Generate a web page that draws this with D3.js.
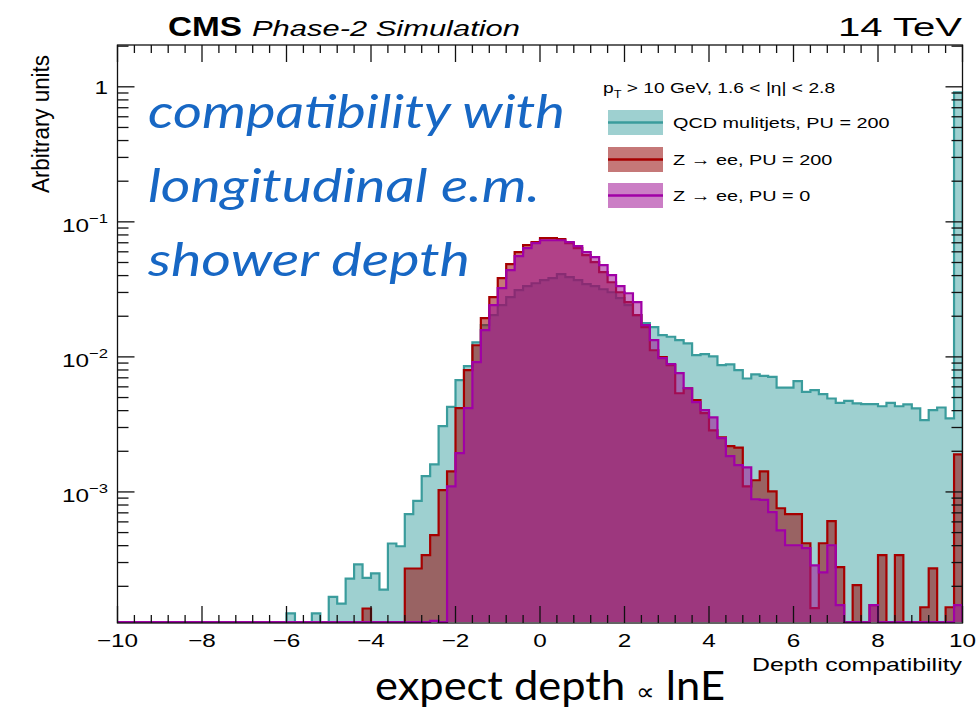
<!DOCTYPE html>
<html>
<head>
<meta charset="utf-8">
<script src="https://cdn.jsdelivr.net/npm/d3@7"></script>
<style>
body { margin: 0; background: #fff; }
text { font-family: "Liberation Sans", Arial, sans-serif; fill: #000; }
</style>
</head>
<body>
<div id="chart"></div>
<script>
// binning: 100 bins of 0.2 from -10 to 10
var xMin = -10, xMax = 10, binWidth = 0.2;

// QCD multijets, PU = 200
var qcdPU200 = [
	0,0,0,0,0,0,0,0,0,0,
	0,0,0,0,0,0,0,0,0,0,
	1.26e-4,0,0,1.26e-4,0,1.67e-4,1.49e-4,2.28e-4,2.91e-4,2.31e-4,
	2.49e-4,1.89e-4,4.15e-4,3.96e-4,6.84e-4,8.58e-4,1.31e-3,1.60e-3,3.07e-3,4.26e-3,
	6.72e-3,8.53e-3,1.28e-2,1.72e-2,2.04e-2,2.42e-2,2.77e-2,3.12e-2,3.34e-2,3.51e-2,
	3.70e-2,3.83e-2,4.10e-2,3.89e-2,3.70e-2,3.46e-2,3.34e-2,3.17e-2,3.01e-2,2.72e-2,
	2.42e-2,2.04e-2,1.78e-2,1.66e-2,1.45e-2,1.41e-2,1.33e-2,1.26e-2,1.03e-2,1.05e-2,
	1.01e-2,8.68e-3,8.79e-3,7.97e-3,6.92e-3,7.41e-3,7.23e-3,7.11e-3,5.93e-3,5.93e-3,
	6.61e-3,5.51e-3,5.67e-3,5.30e-3,4.92e-3,4.56e-3,4.72e-3,4.52e-3,4.47e-3,4.47e-3,
	4.31e-3,4.56e-3,4.31e-3,4.45e-3,4.15e-3,3.40e-3,4.03e-3,4.22e-3,3.50e-3,0.91
];

// Z -> ee, PU = 200
var zeePU200 = [
	0,0,0,0,0,0,0,0,0,0,
	0,0,0,0,0,0,0,0,0,0,
	0,0,0,0,0,0,0,0,0,1.37e-4,
	0,0,0,0,2.71e-4,2.71e-4,3.40e-4,4.78e-4,1.03e-3,1.42e-3,
	4.17e-3,7.97e-3,1.22e-2,1.94e-2,2.77e-2,3.83e-2,4.86e-2,5.97e-2,6.72e-2,7.08e-2,
	7.57e-2,7.57e-2,7.44e-2,6.95e-2,6.38e-2,5.67e-2,5.03e-2,4.24e-2,3.57e-2,3.01e-2,
	2.54e-2,2.04e-2,1.66e-2,1.12e-2,9.95e-3,8.68e-3,5.38e-3,5.86e-3,4.78e-3,3.83e-3,
	2.86e-3,2.54e-3,2.18e-3,2.13e-3,1.10e-3,1.22e-3,1.42e-3,1.01e-3,7.57e-4,6.84e-4,
	6.84e-4,4.17e-4,1.38e-4,4.17e-4,6.07e-4,2.77e-4,0,2.04e-4,0,1.45e-4,
	3.40e-4,0,3.40e-4,0,0,1.40e-4,2.72e-4,0,1.40e-4,1.90e-3
];

// Z -> ee, PU = 0
var zeePU0 = [
	0,0,0,0,0,0,0,0,0,0,
	0,0,0,0,0,0,0,0,0,0,
	0,0,0,0,0,0,0,0,0,0,
	0,0,0,0,0,0,0,1.11e-4,0,1.10e-3,
	1.94e-3,4.17e-3,9.14e-3,1.58e-2,2.42e-2,3.23e-2,4.39e-2,5.57e-2,6.38e-2,6.95e-2,
	7.31e-2,7.31e-2,7.31e-2,7.08e-2,6.61e-2,5.97e-2,5.48e-2,4.78e-2,4.03e-2,3.34e-2,
	2.96e-2,2.54e-2,1.72e-2,1.33e-2,9.78e-3,8.83e-3,7.57e-3,5.86e-3,4.62e-3,4.03e-3,
	3.57e-3,2.50e-3,1.84e-3,1.58e-3,1.52e-3,8.83e-4,8.73e-4,7.08e-4,5.20e-4,4.03e-4,
	4.03e-4,3.83e-4,2.86e-4,2.54e-4,4.03e-4,1.45e-4,0,0,0,1.45e-4,
	0,0,0,0,0,0,0,0,0,1.45e-4
];

var xTickValues = [-10, -8, -6, -4, -2, 0, 2, 4, 6, 8, 10];
var yTickValues = [1, 1e-1, 1e-2, 1e-3];
var yTickExp = ['', '\u22121', '\u22122', '\u22123'];

var legendLabels = ['QCD mulitjets, PU = 200', 'Z \u2192 ee, PU = 200', 'Z \u2192 ee, PU = 0'];

// build canvas
var width = 979,
	height = 716;

var svg = d3.select('#chart')
			.append('svg')
			.attr('width', width)
			.attr('height', height);

var plot = { left: 117.5, right: 962.5, top: 45, bottom: 623 };
var sx = 1.28; // the ROOT text is horizontally stretched in the picture

var x = d3.scaleLinear().domain([xMin, xMax]).range([plot.left, plot.right]);
var y = d3.scaleLog().domain([1.07e-4, 2.04]).range([plot.bottom, plot.top]);

var series = [
	{ values: qcdPU200, line: '#3a9c9c', fill: 'rgba(40,150,150,0.45)' },
	{ values: zeePU200, line: '#a60000', fill: 'rgba(150,10,10,0.55)' },
	{ values: zeePU0,   line: '#a000a6', fill: 'rgba(160,20,150,0.55)' }
];

svg.append('clipPath').attr('id', 'frame')
	.append('rect')
	.attr('x', plot.left).attr('y', plot.top)
	.attr('width', plot.right - plot.left).attr('height', plot.bottom - plot.top);

// step outline of a histogram, empty bins sit on the bottom of the frame
function histPoints(values) {
	var y0 = plot.bottom - 1;
	var pts = [[x(xMin), y0]];
	values.forEach(function(v, i) {
		var lo = xMin + i * binWidth, hi = lo + binWidth;
		var yy = v > 0 ? Math.min(y(Math.max(v, y.domain()[0])), y0) : y0;
		pts.push([x(lo), yy], [x(hi), yy]);
	});
	pts.push([x(xMax), y0]);
	return pts;
}

var hists = svg.append('g').attr('clip-path', 'url(#frame)');
var line = d3.line();

series.forEach(function(s) {
	var pts = histPoints(s.values);
	hists.append('path')
		.attr('d', line(pts) + 'Z')
		.attr('fill', s.fill)
		.attr('stroke', 'none');
	hists.append('path')
		.attr('d', line(pts))
		.attr('fill', 'none')
		.attr('stroke', s.line)
		.attr('stroke-width', 2.2)
		.attr('stroke-linejoin', 'miter');
});

// axes and ticks
var axes = svg.append('g').attr('stroke', '#111').attr('stroke-width', 1.3);

axes.append('rect')
	.attr('x', plot.left).attr('y', plot.top)
	.attr('width', plot.right - plot.left).attr('height', plot.bottom - plot.top)
	.attr('fill', 'none');

var xMinor = d3.range(xMin, xMax + 0.001, 0.4);
xMinor.forEach(function(v) {
	var major = xTickValues.some(function(t) { return Math.abs(t - v) < 1e-6; });
	var len = major ? 17 : 8;
	var xx = x(v);
	axes.append('line').attr('x1', xx).attr('x2', xx).attr('y1', plot.bottom).attr('y2', plot.bottom - len);
	axes.append('line').attr('x1', xx).attr('x2', xx).attr('y1', plot.top).attr('y2', plot.top + len);
});

var yMinor = [];
[-4, -3, -2, -1, 0].forEach(function(e) {
	d3.range(1, 10).forEach(function(m) {
		var v = m * Math.pow(10, e);
		if (v >= y.domain()[0] && v <= y.domain()[1]) yMinor.push({ v: v, major: m === 1 });
	});
});
yMinor.forEach(function(t) {
	var len = t.major ? 17 : 11;
	var yy = y(t.v);
	axes.append('line').attr('x1', plot.left).attr('x2', plot.left + len).attr('y1', yy).attr('y2', yy);
	axes.append('line').attr('x1', plot.right).attr('x2', plot.right - len).attr('y1', yy).attr('y2', yy);
});

// tick labels
svg.append('g').selectAll('text')
	.data(xTickValues).enter()
	.append('text')
	.attr('transform', d => 'translate(' + x(d) + ',647) scale(' + sx + ',1)')
	.attr('text-anchor', 'middle')
	.style('font-size', '19px')
	.text(d => d < 0 ? '\u2212' + Math.abs(d) : d);

var yLab = svg.append('g').selectAll('text')
	.data(yTickValues).enter()
	.append('text')
	.attr('transform', (d, i) => 'translate(108,' + (y(d) + (i ? 10 : 7)) + ') scale(' + sx + ',1)')
	.attr('text-anchor', 'end')
	.style('font-size', '19px');
yLab.append('tspan').text((d, i) => i ? '10' : '1');
yLab.filter((d, i) => i > 0).append('tspan')
	.attr('dy', -9)
	.style('font-size', '13px')
	.text((d, i) => yTickExp[i + 1]);

// axis titles
svg.append('text')
	.attr('x', 962).attr('y', 671)
	.attr('text-anchor', 'end')
	.attr('textLength', 210).attr('lengthAdjust', 'spacingAndGlyphs')
	.style('font-size', '18.5px')
	.text('Depth compatibility');

svg.append('text')
	.attr('transform', 'translate(49,55) scale(' + sx + ',1) rotate(-90)')
	.attr('text-anchor', 'end')
	.attr('textLength', 138).attr('lengthAdjust', 'spacingAndGlyphs')
	.style('font-size', '19px')
	.text('Arbitrary units');

// header
svg.append('text')
	.attr('x', 168).attr('y', 36)
	.attr('textLength', 74).attr('lengthAdjust', 'spacingAndGlyphs')
	.style('font-size', '27px').style('font-weight', 'bold')
	.text('CMS');
svg.append('text')
	.attr('x', 252).attr('y', 36)
	.attr('textLength', 268).attr('lengthAdjust', 'spacingAndGlyphs')
	.style('font-size', '22px').style('font-style', 'italic')
	.text('Phase-2 Simulation');
svg.append('text')
	.attr('x', 962).attr('y', 36)
	.attr('text-anchor', 'end')
	.attr('textLength', 124).attr('lengthAdjust', 'spacingAndGlyphs')
	.style('font-size', '26px')
	.text('14 TeV');

// legend
var legend = svg.append('g');
var head = legend.append('text')
	.attr('transform', 'translate(603,93) scale(' + sx + ',1)')
	.style('font-size', '15px');
head.append('tspan').text('p');
head.append('tspan').attr('dy', 5).style('font-size', '10px').text('T');
head.append('tspan').attr('dy', -5).text(' > 10 GeV, 1.6 < |\u03b7| < 2.8');

var boxY = [110, 147, 183];
series.forEach(function(s, i) {
	legend.append('rect')
		.attr('x', 608).attr('y', boxY[i])
		.attr('width', 55).attr('height', 25)
		.attr('fill', s.fill);
	legend.append('line')
		.attr('x1', 608).attr('x2', 663)
		.attr('y1', boxY[i] + 12.5).attr('y2', boxY[i] + 12.5)
		.attr('stroke', s.line).attr('stroke-width', 2.5);
	legend.append('text')
		.attr('transform', 'translate(673,' + (boxY[i] + 18) + ') scale(' + sx + ',1)')
		.style('font-size', '15.5px')
		.text(legendLabels[i]);
});

// slide annotations
var blue = svg.append('g')
	.style('font-family', 'Lato, "Open Sans", sans-serif')
	.style('font-style', 'italic')
	.style('font-size', '46px');
[['compatibility with', 128, 417], ['longitudinal e.m.', 202, 392], ['shower depth', 276, 322]].forEach(function(l) {
	blue.append('text')
		.attr('x', 148).attr('y', l[1])
		.attr('textLength', l[2]).attr('lengthAdjust', 'spacingAndGlyphs')
		.style('fill', '#1767c4')
		.style('font-family', 'Lato, "Open Sans", sans-serif')
		.text(l[0]);
});

var note = svg.append('text')
	.attr('x', 375).attr('y', 700)
	.attr('textLength', 350).attr('lengthAdjust', 'spacingAndGlyphs')
	.style('font-family', 'Lato, "Open Sans", sans-serif')
	.style('font-size', '40px');
note.append('tspan').text('expect depth ');
note.append('tspan').style('font-size', '24px').text('\u221d');
note.append('tspan').text(' lnE');
</script>
</body>
</html>
